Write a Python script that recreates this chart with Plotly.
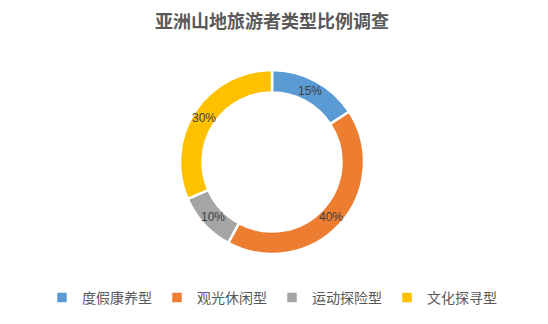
import math
import plotly.graph_objects as go

categories = ["度假康养型", "观光休闲型", "运动探险型", "文化探寻型"]
values = [15, 40, 10, 30]
colors = ["#5B9BD5", "#ED7D31", "#A5A5A5", "#FFC000"]
title_text = "亚洲山地旅游者类型比例调查"

W, H = 548, 324
cx, cy, R = 272, 162, 92
hole = 0.755

fig = go.Figure(go.Pie(
    labels=categories,
    values=values,
    hole=hole,
    sort=False,
    direction="clockwise",
    rotation=0,
    marker=dict(colors=colors, line=dict(color="white", width=2.5)),
    textinfo="none",
    hoverinfo="label+value",
    domain=dict(x=[(cx - R) / W, (cx + R) / W], y=[(H - cy - R) / H, (H - cy + R) / H]),
))

# percentage labels on the ring midline at each slice's mid-angle
total = sum(values)
r_mid = R * (1 + hole) / 2
cum = 0
for v in values:
    ang = (cum + v / 2) / total * 2 * math.pi
    cum += v
    px = cx + r_mid * math.sin(ang)
    py = cy - r_mid * math.cos(ang)
    fig.add_annotation(x=px / W, y=1 - py / H, xref="paper", yref="paper",
                       text=f"{v}%", showarrow=False, xanchor="center", yanchor="middle",
                       font=dict(family="Liberation Sans, Arial, sans-serif", size=12, color="#404040"))

fig.update_layout(
    width=W, height=H,
    margin=dict(l=0, r=0, t=0, b=0),
    paper_bgcolor="white",
    plot_bgcolor="white",
    title=dict(text="<b>" + title_text + "</b>", x=272 / W, xanchor="center", y=1 - 22 / H, yanchor="middle",
               font=dict(family="Noto Sans CJK SC, serif", size=18, color="#595959")),
    showlegend=True,
    legend=dict(orientation="h", x=272 / W, xanchor="center", y=(H - 298) / H, yanchor="middle",
                font=dict(family="Noto Sans CJK SC, sans-serif", size=14, color="#595959"),
                itemwidth=30, traceorder="normal"),
)

fig.write_html("out.html")
